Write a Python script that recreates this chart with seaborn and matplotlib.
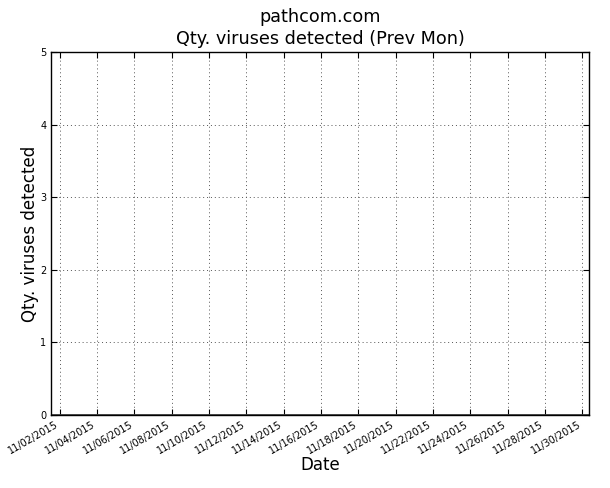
import pandas as pd
import matplotlib
matplotlib.use('Agg')
import matplotlib.pyplot as plt
import matplotlib.dates as mdates
import seaborn as sns

### Data: daily virus counts for previous month (all zero)
dates = pd.date_range('2015-11-01 13:00', '2015-11-30 13:00', freq='D').tolist()
dates[-1] = pd.Timestamp('2015-11-30 09:00')
counts = [0] * len(dates)
tick_dates = pd.date_range('2015-11-02', '2015-11-30', freq='2D')

df = pd.DataFrame({'Date': dates, 'Count': counts})

sns.set_style('white')
plt.rcParams['font.family'] = ['DejaVu Sans']
plt.rcParams['text.color'] = 'black'
plt.rcParams['axes.labelcolor'] = 'black'

fig, ax = plt.subplots(figsize=(6.1, 4.88), dpi=100)
fig.subplots_adjust(left=0.084, right=0.966, top=0.893, bottom=0.15)

sns.lineplot(x='Date', y='Count', data=df, ax=ax, color='#444444', linewidth=2)

ax.set_xlim(dates[0], dates[-1])
ax.set_ylim(0, 5)
ax.set_xticks(tick_dates)
ax.xaxis.set_major_formatter(mdates.DateFormatter('%m/%d/%Y'))
ax.set_yticks(range(0, 6))

ax.grid(True, linestyle=(0, (1, 3)), color='#555555', linewidth=0.7)
for s in ax.spines.values():
    s.set_color('black')
    s.set_linewidth(1.0)
ax.tick_params(direction='in', length=4, width=0.8, labelsize=7, colors='black',
               top=True, right=True, bottom=True, left=True)
plt.setp(ax.get_xticklabels(), rotation=30, ha='right')

ax.set_xlabel('Date', fontsize=12, labelpad=0)
ax.set_ylabel('Qty. viruses detected', fontsize=12, labelpad=1)
ax.set_title('pathcom.com\nQty. viruses detected (Prev Mon)', fontsize=12.7, linespacing=1.25)

plt.savefig('out.png', dpi=100)
